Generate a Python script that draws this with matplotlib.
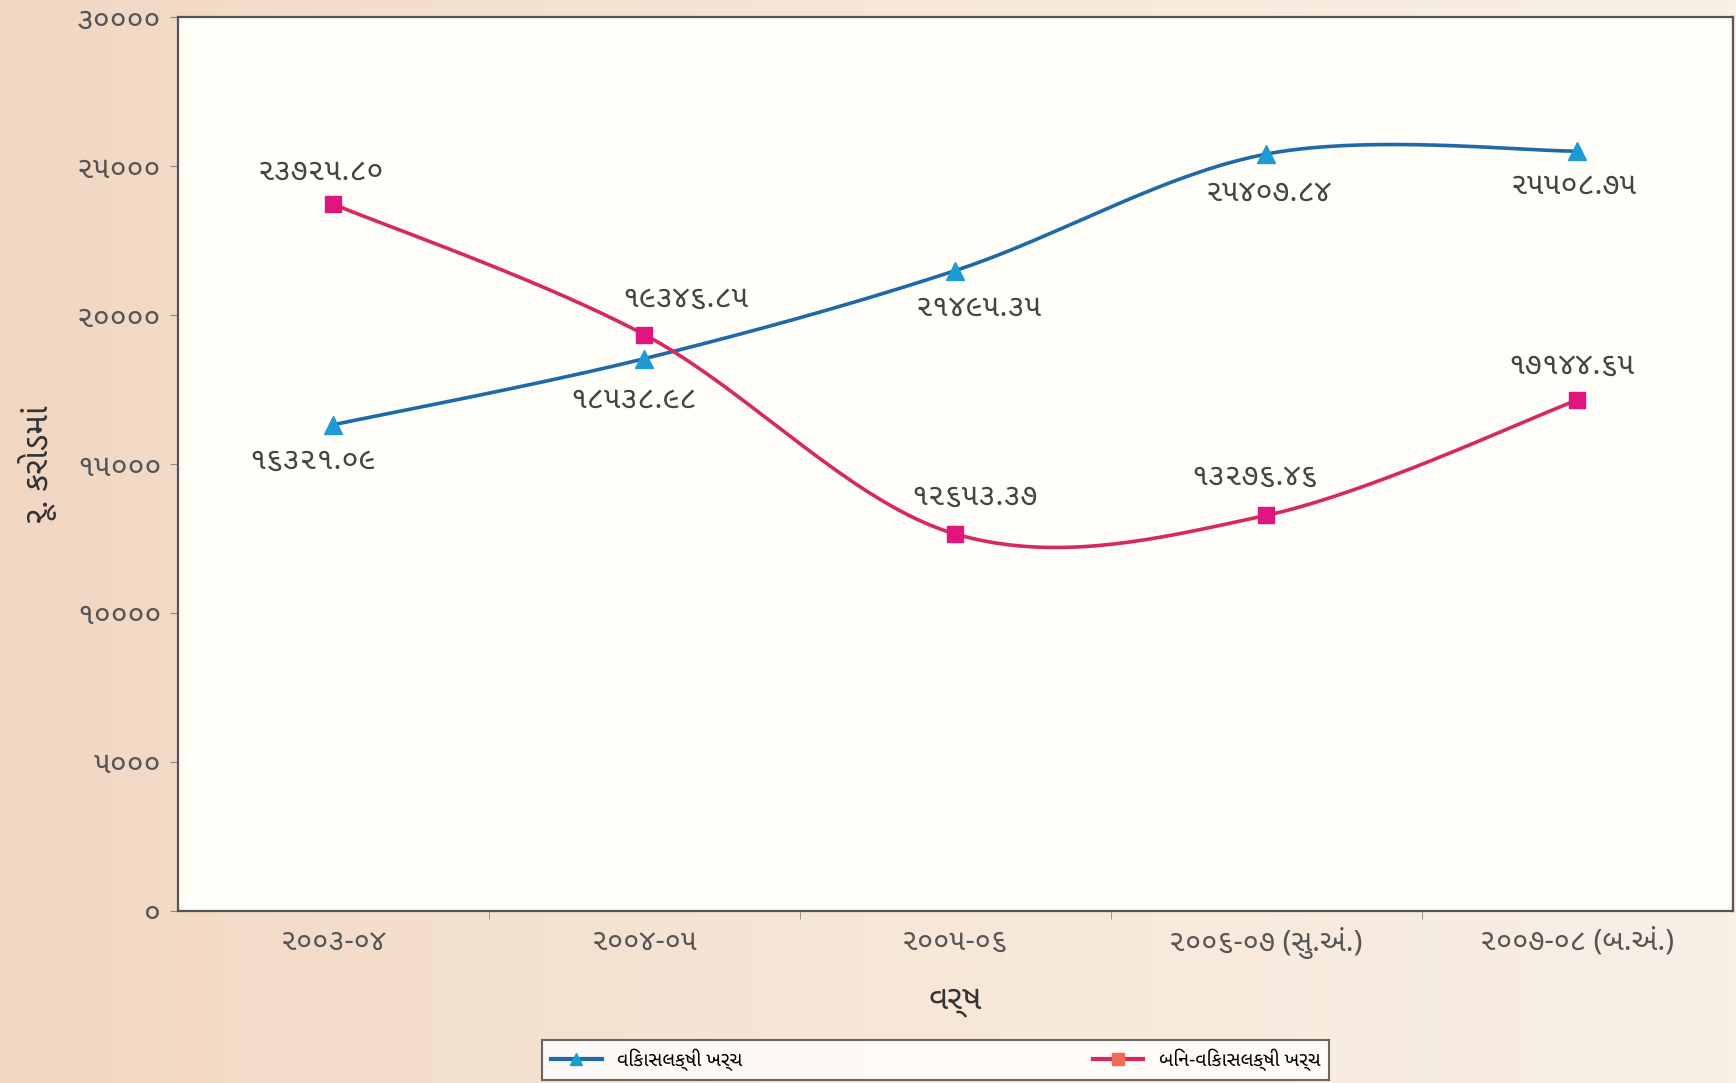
import numpy as np
import matplotlib
matplotlib.use('Agg')
import matplotlib.pyplot as plt
from matplotlib import font_manager
from matplotlib.lines import Line2D
from matplotlib.colors import LinearSegmentedColormap

# look for installed fonts that have Gujarati glyphs, prefer a proportional sans one
cands = []
try:
    from fontTools.ttLib import TTFont
    for path in font_manager.findSystemFonts():
        try:
            f = TTFont(path, fontNumber=0, lazy=True)
            cmap = f.getBestCmap() or {}
            if 0x0AE6 in cmap and 0x0A95 in cmap:
                font_manager.fontManager.addfont(path)
                name = font_manager.FontProperties(fname=path).get_name()
                score = 0
                if 'Gujarati' in name:
                    score -= 10
                if 'Sans' in name:
                    score -= 3
                if 'Mono' in name or 'Code' in name:
                    score += 20
                if 'Bold' in path:
                    score += 2
                cands.append((score, name))
        except Exception:
            pass
except ImportError:
    pass
cands.sort()
guj_font = cands[0][1] if cands else None

families = ([guj_font] if guj_font else []) + ['Noto Sans', 'DejaVu Sans']
plt.rcParams['font.family'] = families

years = ['૨૦૦૩-૦૪', '૨૦૦૪-૦૫', '૨૦૦૫-૦૬', '૨૦૦૬-૦૭ (સુ.અં.)', '૨૦૦૭-૦૮ (બ.અં.)']
dev = [16321.09, 18538.98, 21495.35, 25407.84, 25508.75]
nondev = [23725.80, 19346.85, 12653.37, 13276.46, 17144.65]
dev_labels = ['૧૬૩૨૧.૦૯', '૧૮૫૩૮.૯૮', '૨૧૪૯૫.૩૫', '૨૫૪૦૭.૮૪', '૨૫૫૦૮.૭૫']
nondev_labels = ['૨૩૭૨૫.૮૦', '૧૯૩૪૬.૮૫', '૧૨૬૫૩.૩૭', '૧૩૨૭૬.૪૬', '૧૭૧૪૪.૬૫']
yticks = [0, 5000, 10000, 15000, 20000, 25000, 30000]
ytick_labels = ['૦', '૫૦૦૦', '૧૦૦૦૦', '૧૫૦૦૦', '૨૦૦૦૦', '૨૫૦૦૦', '૩૦૦૦૦']
series_names = ['વિકાસલક્ષી ખર્ચ', 'બિન-વિકાસલક્ષી ખર્ચ']


def smooth(xs, ys, n=40):
    # catmull-rom style curve through the points (like excel smoothed lines)
    xs = np.asarray(xs, float)
    ys = np.asarray(ys, float)
    px = np.concatenate([[xs[0]], xs, [xs[-1]]])
    py = np.concatenate([[ys[0]], ys, [ys[-1]]])
    outx, outy = [], []
    t = np.linspace(0, 1, n)
    for i in range(1, len(px) - 2):
        p0, p1, p2, p3 = [np.array([px[j], py[j]]) for j in (i - 1, i, i + 1, i + 2)]
        c1 = p1 + (p2 - p0) / 6
        c2 = p2 - (p3 - p1) / 6
        b = ((1 - t) ** 3)[:, None] * p1 + (3 * (1 - t) ** 2 * t)[:, None] * c1 \
            + (3 * (1 - t) * t ** 2)[:, None] * c2 + (t ** 3)[:, None] * p2
        outx.extend(b[:, 0])
        outy.extend(b[:, 1])
    return outx, outy


fig = plt.figure(figsize=(17.36, 10.83), dpi=100)

# paper-like background
bg = fig.add_axes([0, 0, 1, 1], zorder=-10)
grad = np.linspace(0, 1, 256)[None, :]
cmap = LinearSegmentedColormap.from_list('paper', ['#f1d7c2', '#f6e7d8', '#f9efe5'])
bg.imshow(grad, aspect='auto', cmap=cmap, extent=[0, 1, 0, 1])
bg.axis('off')

ax = fig.add_axes([0.1025, 0.159, 0.8955, 0.825])
ax.set_facecolor('#fffdf7')
x = np.arange(len(years))

blue_line, blue_mark = '#1e6aa8', '#1e9ad6'
red_line, red_mark = '#d42a5c', '#e0157d'

sx, sy = smooth(x, dev)
ax.plot(sx, sy, color=blue_line, lw=2.6, zorder=3)
ax.plot(x, dev, ls='none', marker='^', ms=13, color=blue_mark, zorder=4)
sx, sy = smooth(x, nondev)
ax.plot(sx, sy, color=red_line, lw=2.6, zorder=3)
ax.plot(x, nondev, ls='none', marker='s', ms=12, color=red_mark, zorder=4)

dev_off = [(-15, -26), (-8, -30), (17, -27), (2, -28), (-2, -25)]
nondev_off = [(-9, 23), (30, 26), (14, 27), (-8, 28), (-4, 25)]
for i in range(len(x)):
    ax.annotate(dev_labels[i], (x[i], dev[i]), xytext=dev_off[i], textcoords='offset points',
                ha='center', va='center', fontsize=22, color='#444444')
    ax.annotate(nondev_labels[i], (x[i], nondev[i]), xytext=nondev_off[i], textcoords='offset points',
                ha='center', va='center', fontsize=22, color='#444444')

ax.set_xlim(-0.5, len(years) - 0.5)
ax.set_ylim(0, 30000)
ax.set_yticks(yticks)
ax.set_yticklabels(ytick_labels, fontsize=22, color='#555555')
ax.set_xticks(x)
ax.set_xticklabels(years, fontsize=21, color='#555555')
ax.set_xticks(np.arange(0.5, len(years) - 0.5), minor=True)
ax.tick_params(axis='x', which='major', length=0, pad=12)
ax.tick_params(axis='x', which='minor', length=6, color='#888888')
ax.tick_params(axis='y', length=6, color='#888888', pad=6)
for s in ax.spines.values():
    s.set_color('#555555')
    s.set_linewidth(1.6)

ax.set_xlabel('વર્ષ', fontsize=24, fontweight='bold', color='#333333', labelpad=18)
ax.set_ylabel('રૂ. કરોડમાં', fontsize=24, fontweight='bold', color='#333333', labelpad=14)

handles = [Line2D([], [], color=blue_line, lw=3, marker='^', ms=9, markerfacecolor=blue_mark, markeredgecolor=blue_mark),
           Line2D([], [], color=red_line, lw=3, marker='s', ms=8, markerfacecolor='#ef6a5a', markeredgecolor='#ef6a5a')]
leg = fig.legend(handles, series_names, loc='lower center', bbox_to_anchor=(0.539, -0.006), ncol=2,
                 fontsize=14, frameon=True, fancybox=False, columnspacing=18, handlelength=2.6,
                 borderpad=0.45, edgecolor='#444444')
leg.get_frame().set_linewidth(1.5)
leg.get_frame().set_facecolor('white')

fig.savefig('out.png', dpi=100)
